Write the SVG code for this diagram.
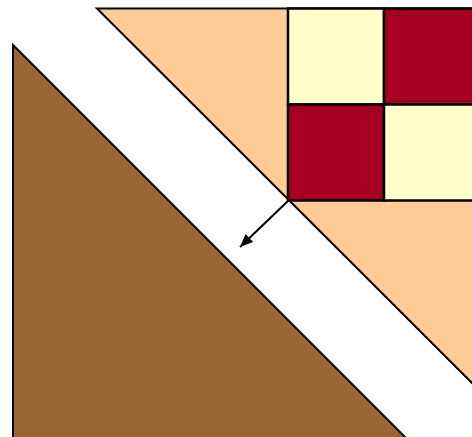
<svg xmlns="http://www.w3.org/2000/svg" width="472" height="437" viewBox="0 0 472 437">
<style>
.edge{stroke:#000;stroke-width:2;stroke-linejoin:miter}
.cell{stroke:#000;stroke-width:2.5}
</style>
<defs>
<marker id="ah" markerWidth="13" markerHeight="11" refX="13" refY="5.5" orient="auto" markerUnits="userSpaceOnUse" viewBox="0 0 13 11">
<path d="M0,0 L13,5.5 L0,11 z" fill="#000"/>
</marker>
</defs>
<rect width="472" height="437" fill="#fff"/>
<g id="brown-triangle">
<polygon class="edge" points="13,45 13,440 408,440" fill="#996633"/>
</g>
<g id="peach-triangle">
<polygon class="edge" points="97,8.5 480,8.5 480,391" fill="#FFCC99"/>
</g>
<g id="grid">
<rect class="cell" x="288" y="8.5" width="96" height="96" fill="#FFFFCC"/>
<rect class="cell" x="384" y="8.5" width="96" height="96" fill="#A50021"/>
<rect class="cell" x="288" y="104.5" width="96" height="96" fill="#A50021"/>
<rect class="cell" x="384" y="104.5" width="96" height="96" fill="#FFFFCC"/>
</g>
<g id="connectors">
<line x1="289" y1="200" x2="240" y2="247" stroke="#000" stroke-width="2" marker-end="url(#ah)"/>
</g>
</svg>
